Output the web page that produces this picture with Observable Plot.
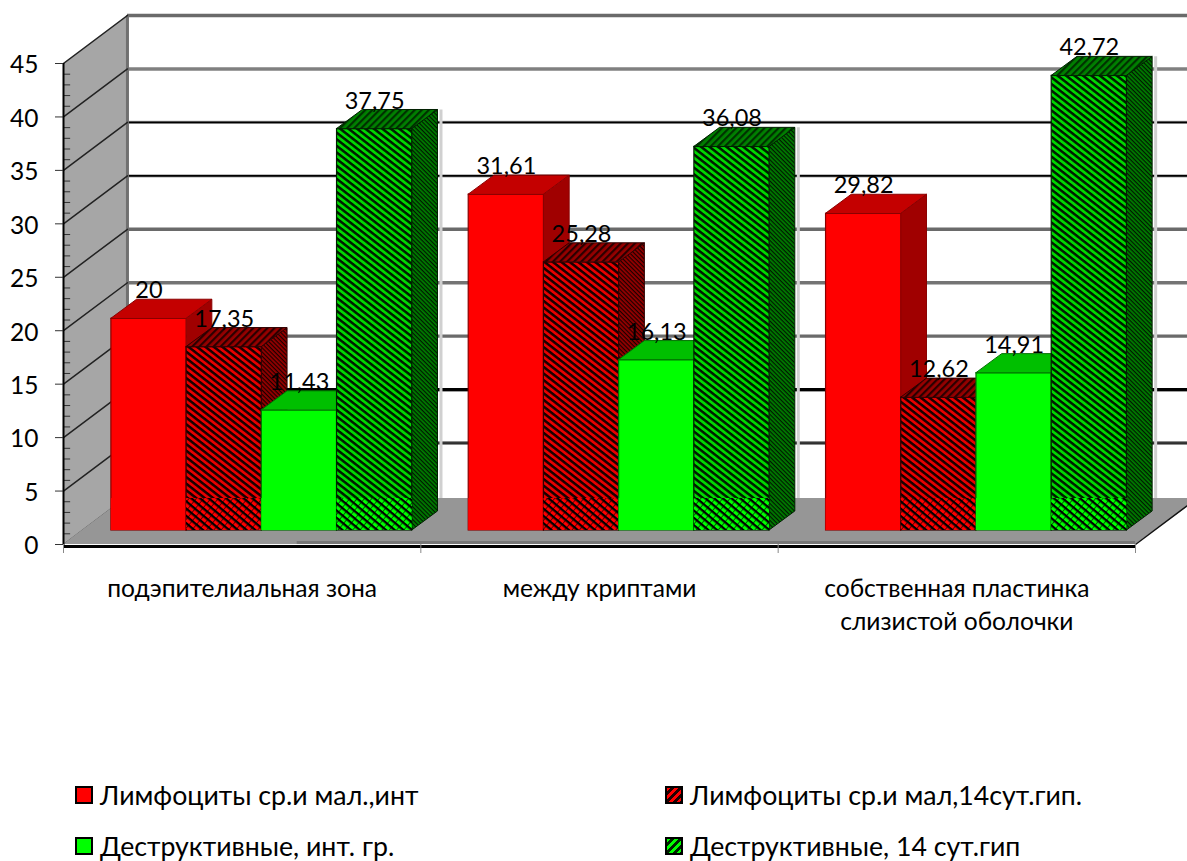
<!DOCTYPE html>
<html lang="ru">
<head>
<meta charset="utf-8">
<script src="https://cdn.jsdelivr.net/npm/d3@7"></script>
<script src="https://cdn.jsdelivr.net/npm/@observablehq/plot@0.6"></script>
<style>
  html, body { margin: 0; padding: 0; background: #fff; overflow: hidden; }
  #chart { width: 1187px; height: 861px; position: relative; font-family: Lato, "Open Sans", sans-serif; }
  #legend { position: absolute; left: 0; top: 770px; width: 1187px; height: 91px; color: #000; font-size: 26.7px; }
  .key { position: absolute; display: flex; align-items: center; white-space: nowrap; height: 30px; }
  .swatch { width: 14px; height: 14px; border: 2px solid #000; margin-right: 7px; flex: none; }
</style>
</head>
<body>
<div id="chart"></div>
<script>
// Zones along the horizontal axis
const zones = ["подэпителиальная зона", "между криптами", "собственная пластинка\nслизистой оболочки"];

// Cell counts per zone, one list per series
const lymphIntact = [20, 31.61, 29.82];
const lymphHypoxia = [17.35, 25.28, 12.62];
const destructIntact = [11.43, 16.13, 14.91];
const destructHypoxia = [37.75, 36.08, 42.72];

const seriesNames = ["Лимфоциты ср.и мал.,инт", "Лимфоциты ср.и мал,14сут.гип.", "Деструктивные, инт. гр.", "Деструктивные, 14 сут.гип"];
const yTicks = [0, 5, 10, 15, 20, 25, 30, 35, 40, 45];
const yMinorTicks = d3.range(0, 45).filter((d) => d % 5 !== 0);

// Face paints for each series: front, top, side, front near the floor, outline
const paints = [
  {front: "#ff0000", top: "#c40000", side: "#a00000", low: "#ff0000", edge: "#8a0000"},
  {front: "url(#redHatch)", top: "url(#redTop)", side: "url(#redSide)", low: "url(#redLow)", edge: "#300000"},
  {front: "#00ff00", top: "#00bf00", side: "#008000", low: "#00ff00", edge: "#007000"},
  {front: "url(#greenHatch)", top: "url(#greenTop)", side: "url(#greenSide)", low: "url(#greenLow)", edge: "#002000"}
];
const seriesValues = [lymphIntact, lymphHypoxia, destructIntact, destructHypoxia];

// Oblique projection in scale units: wall depth, bar depth, and bar placement
const wallDx = 0.179, wallDy = 4.49;
const barDx = 0.072, barDy = 1.78;
const barGap = 0.134, barWidth = 0.2105;
const footLift = 1.31, topLift = 1.12, lowBand = 4.3;

// Back-wall rules: a soft band plus an optional dark core
const gridShades = {45: ["#6a6a6a", 0], 40: ["#808080", 0], 35: ["#a8a8a8", 1.6], 30: ["#a8a8a8", 1.6], 25: ["#6a6a6a", 0], 20: ["#747474", 0], 15: ["#6a6a6a", 0], 10: ["#555", 3.2], 5: ["#666", 1]};
const gridTicks = yTicks.filter((d) => d > 0);

const quad = (x1a, x2a, y1a, y2a, x1b, x2b, y1b, y2b) => [
  {x1: x1a, x2: x2a, y1: y1a, y2: y2a},
  {x1: x1b, x2: x2b, y1: y1b, y2: y2b}
];
const corners = {x1: "x1", x2: "x2", y1: "y1", y2: "y2"};

// One rectangular prism per value, painted left to right so each bar overlaps its neighbour
function barMarks() {
  const marks = [];
  zones.forEach((_, z) => {
    seriesValues.forEach((values, s) => {
      const v = values[z], p = paints[s];
      const x0 = z + barGap + s * barWidth, x1 = x0 + barWidth, top = v + topLift;
      if (s === 3) {
        // Faint shadow along the far edge of the last bar in a group
        marks.push(Plot.ruleX([x1 + barDx], {y1: lowBand, y2: top + barDy, dx: 3, stroke: "#d0d0d0", strokeWidth: 3}));
      }
      marks.push(Plot.area(quad(x1, x1, footLift, top, x1 + barDx, x1 + barDx, footLift + barDy, top + barDy),
        {...corners, fill: p.side, stroke: p.edge, strokeWidth: 1}));
      marks.push(Plot.rect([0], {x1: x0, x2: x1, y1: footLift, y2: top, fill: p.front, stroke: p.edge, strokeWidth: 1.2}));
      marks.push(Plot.rect([0], {x1: x0, x2: x1, y1: footLift, y2: lowBand, fill: p.low}));
      marks.push(Plot.area(quad(x0, x1, top, top, x0 + barDx, x1 + barDx, top + barDy, top + barDy),
        {...corners, fill: p.top, stroke: p.edge, strokeWidth: 1}));
    });
  });
  return marks;
}

// Value captions sit on top of every bar
const labelRows = zones.flatMap((_, z) => seriesValues.map((values, s) => ({
  x: z + barGap + (s + 0.5) * barWidth,
  v: values[z]
})));

const hatchDefs = () => {
  const defs = d3.create("svg:defs");
  const add = (id, size, bg, fg, w, angle, breakWidth = 0) => {
    const pat = defs.append("pattern").attr("id", id).attr("patternUnits", "userSpaceOnUse")
      .attr("width", size).attr("height", size).attr("patternTransform", `rotate(${angle})`);
    pat.append("rect").attr("width", size).attr("height", size).attr("fill", bg);
    pat.append("rect").attr("width", size).attr("height", w).attr("fill", fg);
    if (breakWidth) pat.append("rect").attr("width", breakWidth).attr("height", size).attr("fill", fg);
  };
  add("redHatch", 5.2, "#e80000", "#160000", 2.5, 38);
  add("redLow", 5.6, "#ff0000", "#000000", 2.3, 40, 0.6);
  add("redTop", 5, "#960000", "#2a0000", 2.2, -45);
  add("redSide", 3, "#980000", "#1a0000", 1.2, 45);
  add("greenHatch", 5.2, "#00d800", "#001800", 2.5, 38);
  add("greenLow", 5.6, "#00ff00", "#000000", 2.3, 40, 0.6);
  add("greenTop", 5, "#008000", "#003000", 2.2, -45);
  add("greenSide", 3, "#007c00", "#001800", 1.2, 45);
  return defs.node();
};

const chart = Plot.plot({
  width: 1187,
  height: 770,
  marginLeft: 63,
  marginRight: 52,
  marginTop: 63,
  marginBottom: 226,
  style: {background: "#fff", overflow: "hidden", fontFamily: 'Lato, "Open Sans", sans-serif'},
  x: {type: "linear", domain: [0, 3], axis: null},
  y: {type: "linear", domain: [0, 45], axis: null},
  marks: [
    hatchDefs,
    // Back wall rules
    ...gridTicks.map((d) => Plot.ruleY([d + wallDy], {x1: wallDx, x2: 3.2, stroke: gridShades[d][0], strokeWidth: 3.4})),
    ...gridTicks.filter((d) => gridShades[d][1] > 0).map((d) => Plot.ruleY([d + wallDy], {x1: wallDx, x2: 3.2, stroke: "#000", strokeWidth: gridShades[d][1]})),
    // Left wall
    Plot.area(quad(0, 0, 0, 45, wallDx, wallDx, wallDy, 45 + wallDy), {...corners, fill: "#a6a6a6"}),
    Plot.ruleX([wallDx], {y1: 8, y2: 45 + wallDy, stroke: "#707070", strokeWidth: 3}),
    // Slanted rules across the left wall
    ...yTicks.map((d) => Plot.line([{x: 0, y: d}, {x: wallDx, y: d + wallDy}], {x: "x", y: "y", stroke: "#222", strokeWidth: 1.5})),
    // Floor
    Plot.area(quad(0, 3, 0, 0, wallDx * (lowBand / wallDy), 3 + wallDx, lowBand, lowBand), {...corners, fill: "#969696"}),
    Plot.rect([0], {x1: 0.654, x2: 3, y1: 0, y2: 0.28, fill: "#777"}),
    // Minor ticks run into the wall, major ticks outward
    Plot.ruleY(yMinorTicks, {x1: 0, x2: 0.02, stroke: "#333", strokeWidth: 1}),
    ...barMarks(),
    // Axis lines
    Plot.ruleX([0], {y1: 0, y2: 45, stroke: "#000", strokeWidth: 2}),
    Plot.ruleY([0], {x1: 0, x2: 3, dy: 2, stroke: "#000", strokeWidth: 3}),
    Plot.line([{x: 3, y: 0}, {x: 3 + wallDx, y: wallDy}], {x: "x", y: "y", stroke: "#111", strokeWidth: 1.5}),
    Plot.axisY({ticks: yTicks, tickSize: 8, tickFormat: () => "", stroke: "#333"}),
    Plot.axisY({ticks: yTicks, tickSize: 0, tickPadding: 25, dy: 2, fontSize: 24.5, fill: "#000"}),
    Plot.axisX({ticks: [0, 1, 2, 3], tickSize: 9, tickFormat: () => "", stroke: "#888"}),
    // Zone captions
    Plot.text(zones, {x: (_, i) => i + 0.5, y: 0, dy: 29, text: (d) => d, lineAnchor: "top", lineHeight: 1.34, fontSize: 24.6, fill: "#000"}),
    Plot.text(labelRows, {x: "x", y: (d) => d.v + topLift, dy: -28, text: (d) => String(d.v).replace(".", ","), fontSize: 23.5, fill: "#000"})
  ]
});
document.getElementById("chart").append(chart);

// Key below the plot
const legend = d3.select("#chart").append("div").attr("id", "legend");
const keyPos = [[75, 10], [665, 10], [75, 61], [665, 61]];
const keyFill = [
  "#ff0000",
  "repeating-linear-gradient(135deg, #ff0000 0 2.5px, #200000 2.5px 5.5px)",
  "#00ff00",
  "repeating-linear-gradient(135deg, #00ff00 0 2.5px, #002000 2.5px 5.5px)"
];
seriesNames.forEach((name, i) => {
  const key = legend.append("div").attr("class", "key")
    .style("left", keyPos[i][0] + "px").style("top", keyPos[i][1] + "px");
  key.append("span").attr("class", "swatch").style("background", keyFill[i]);
  key.append("span").text(name);
});
</script>
</body>
</html>
